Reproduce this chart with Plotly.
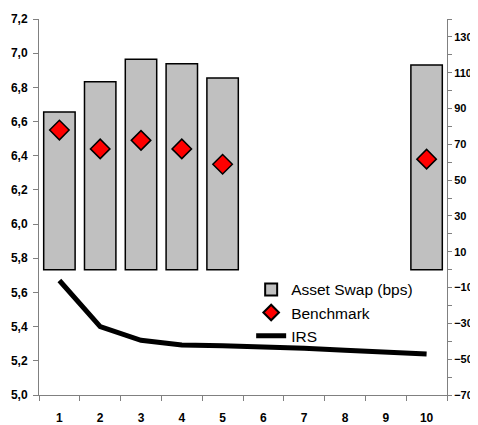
import plotly.graph_objects as go

categories = ["1", "2", "3", "4", "5", "6", "7", "8", "9", "10"]
asset_swap_bps = [88, 105, 117.5, 115, 107, None, None, None, None, 114.3]
benchmark = [6.55, 6.44, 6.49, 6.44, 6.35, None, None, None, None, 6.38]
irs = [5.67, 5.40, 5.32, 5.293, 5.288, 5.283, 5.273, 5.262, 5.25, 5.24]

left_ticks = [5.0, 5.2, 5.4, 5.6, 5.8, 6.0, 6.2, 6.4, 6.6, 6.8, 7.0, 7.2]
right_ticks = [-70, -50, -30, -10, 10, 30, 50, 70, 90, 110, 130]

font_family = "Liberation Sans Narrow, Arial Narrow, Liberation Sans, Arial"
tick_font = dict(family=font_family, size=12, color="black", weight="bold")
right_tick_font = dict(family=font_family, size=11, color="black", weight="bold")
legend_font = dict(family=font_family, size=15.5, color="black")

fig = go.Figure()
fig.add_trace(go.Bar(
    x=categories, y=asset_swap_bps, name="Asset Swap (bps)",
    marker=dict(color="#c0c0c0", line=dict(color="black", width=1.5)),
    width=0.77, yaxis="y", legendrank=1,
))
fig.add_trace(go.Scatter(
    x=categories, y=irs, name="IRS", mode="lines",
    line=dict(color="black", width=5), yaxis="y2", legendrank=3,
))
fig.add_trace(go.Scatter(
    x=categories, y=benchmark, name="Benchmark", mode="markers",
    marker=dict(symbol="diamond", size=15, color="red",
                line=dict(color="black", width=1.5)),
    yaxis="y2", legendrank=2,
))

axis_color = "#808080"
# the page adds an 8px body margin, so the figure is sized to fill the rest of the window
fig.update_layout(
    width=470, height=417,
    margin=dict(l=31, r=31, t=11, b=30, autoexpand=False),
    plot_bgcolor="white", paper_bgcolor="white",
    separators=",.",
    showlegend=True,
    legend=dict(x=0.52, y=0.325, xanchor="left", yanchor="top",
                bgcolor="rgba(0,0,0,0)", font=legend_font,
                tracegroupgap=0, itemwidth=30, itemsizing="constant"),
    xaxis=dict(type="category", range=[-0.5, 9.5], tickson="boundaries",
               ticks="outside", ticklen=5,
               tickcolor=axis_color, showline=True, linecolor=axis_color, linewidth=1,
               showgrid=False, tickfont=tick_font, zeroline=False, automargin=False,
               ticklabelstandoff=12),
    yaxis=dict(side="right", range=[-70, 140], tickvals=right_ticks,
               ticks="outside", ticklen=4, tickcolor=axis_color,
               minor=dict(dtick=10, tick0=-70, ticks="outside", ticklen=4,
                          tickcolor=axis_color, showgrid=False),
               showline=True, linecolor=axis_color, linewidth=1, automargin=False,
               showgrid=False, zeroline=False, tickfont=right_tick_font,
               ticklabelstandoff=0),
    yaxis2=dict(side="left", overlaying="y", range=[5.0, 7.2], tickvals=left_ticks,
                tickformat=".1f", ticks="outside", ticklen=5, tickcolor=axis_color,
                showline=True, linecolor=axis_color, linewidth=1, automargin=False,
                showgrid=False, zeroline=False, tickfont=tick_font,
                ticklabelstandoff=3),
)

fig.write_html("out.html")
